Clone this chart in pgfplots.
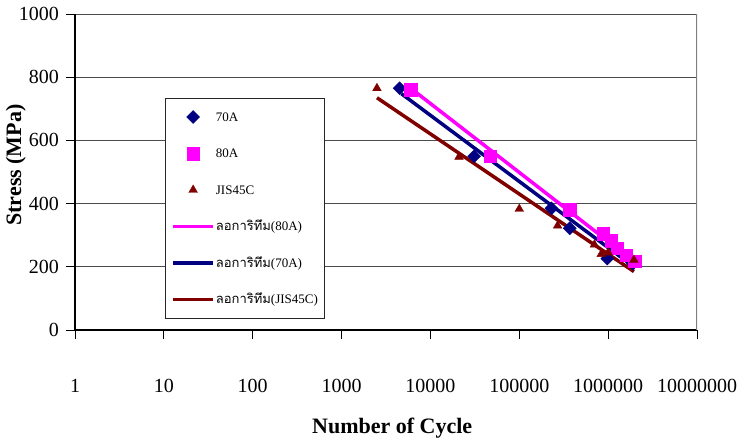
\documentclass[border=0pt]{standalone}
\usepackage{pgfplots}
\pgfplotsset{compat=1.18}
\usepackage{fontspec}
\setmainfont{Liberation Serif}
\newfontfamily\thaifont[Script=Thai]{Loma}
\definecolor{navyc}{RGB}{0,0,128}
\definecolor{magc}{RGB}{255,0,255}
\definecolor{redc}{RGB}{128,0,0}
\begin{document}
\begin{tikzpicture}
\useasboundingbox (0,0) rectangle (744pt,439pt);
\begin{axis}[
  at={(75pt,109pt)}, anchor=south west,
  scale only axis, width=622pt, height=316pt,
  xmode=log, log basis x=10,
  xmin=1, xmax=1e7, ymin=0, ymax=1000,
  xtick={1,10,100,1000,10000,100000,1000000,10000000},
  xticklabels={1,10,100,1000,10000,100000,1000000,10000000},
  xminorticks=false,
  ytick={0,200,400,600,800,1000},
  yticklabels={0,200,400,600,800,1000},
  axis lines=left, axis line style={-, black, line width=1.2pt},
  tick align=outside, major tick length=9pt,
  tick style={black, line width=0.8pt},
  ymajorgrids, grid style={black!70, line width=0.9pt},
  tick label style={font=\fontsize{20}{24}\selectfont},
  xticklabel style={anchor=center, yshift=-47pt},
  yticklabel style={anchor=east, inner sep=0pt, xshift=-7pt},
  ylabel={Stress (MPa)},
  ylabel style={at={(axis description cs:-0.095,0.522)}, anchor=center, font=\bfseries\fontsize{22}{26}\selectfont},
  xlabel={Number of Cycle},
  xlabel style={at={(axis description cs:0.381,-0.326)}, anchor=base west, inner sep=0pt, font=\bfseries\fontsize{22}{26}\selectfont},
  legend style={at={(axis description cs:0.1447,0.734)}, anchor=north west,
    draw=black!85, line width=0.8pt, fill=white, inner xsep=6pt, inner ysep=12pt,
    row sep=23.5pt, column sep=1pt,
    font=\fontsize{13}{15}\selectfont,
    nodes={inner sep=0pt, text height=11pt, text depth=2pt}},
  legend cell align=left,
  legend image code/.code={\draw[mark repeat=2,mark phase=2,#1] plot coordinates {(0pt,0pt)(20pt,0pt)(40pt,0pt)};},
]
\addplot[only marks, color=navyc, mark=square*, mark size=4.6pt, mark options={rotate=45, line width=0.4pt}] coordinates {
(4500,765) (31000,550) (230000,385) (370000,322) (980000,226) (1900000,210)
};
\addlegendentry{70A}
\addplot[only marks, color=magc, mark=square*, mark size=6.3pt, mark options={line width=0.4pt}] coordinates {
(6000,760) (47000,550) (370000,380) (880000,305) (1080000,282) (1260000,259) (1590000,237) (2000000,218)
};
\addlegendentry{80A}
\addplot[only marks, color=redc, mark=triangle*, mark size=5pt, mark options={line width=0.4pt}] coordinates {
(2500,765) (21000,548) (100000,383) (270000,330) (700000,270) (835000,240) (1000000,245) (1950000,222)
};
\addlegendentry{JIS45C}
\addplot[color=magc, line width=3.5pt, no marks] coordinates {(6000,765) (2000000,215)};
\addlegendentry{{\thaifont ลอการิทึม}(80A)}
\addplot[color=navyc, line width=3.5pt, no marks] coordinates {(4700,748) (1950000,200)};
\addlegendentry{{\thaifont ลอการิทึม}(70A)}
\addplot[color=redc, line width=3.5pt, no marks] coordinates {(2500,735) (1950000,185)};
\addlegendentry{{\thaifont ลอการิทึม}(JIS45C)}
\draw[gray, line width=1.6pt] (rel axis cs:1,0) -- (rel axis cs:1,1);
\end{axis}
\end{tikzpicture}
\end{document}
